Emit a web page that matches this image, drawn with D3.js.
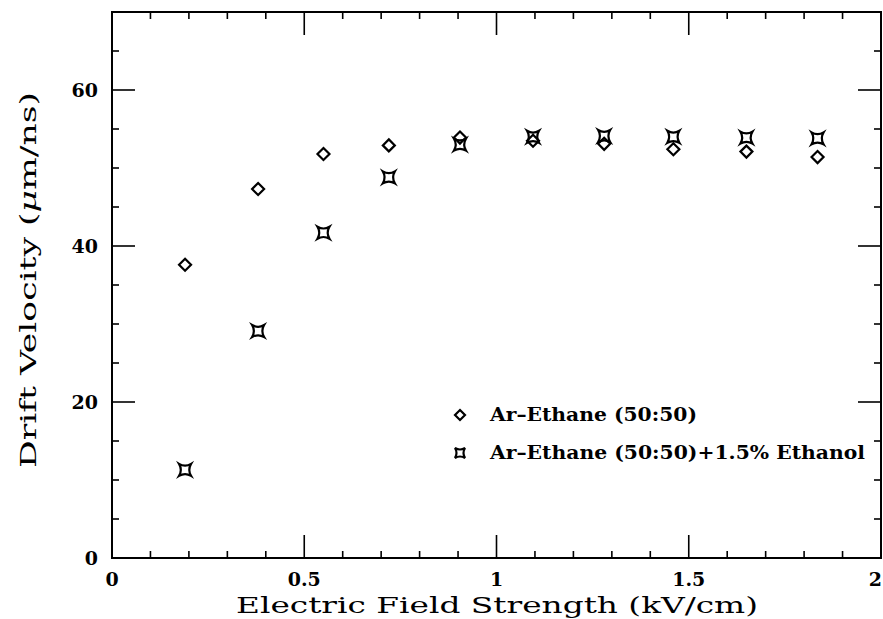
<!DOCTYPE html>
<html><head><meta charset="utf-8">
<script src="https://cdn.jsdelivr.net/npm/d3@7"></script>
<style>body{margin:0;background:#fff}</style>
</head><body>
<svg id="c" width="883" height="619"></svg>
<script>
const fieldX = [0.19, 0.38, 0.55, 0.72, 0.905, 1.095, 1.28, 1.46, 1.65, 1.835];
const arEthane = [37.6, 47.3, 51.8, 52.9, 53.9, 53.5, 53.1, 52.4, 52.1, 51.4];
const arEthaneEthanol = [11.3, 29.1, 41.7, 48.8, 53.0, 54.0, 54.1, 54.0, 53.9, 53.8];
const xTickLabels = ["0", "0.5", "1", "1.5", "2"];
const yTickLabels = ["0", "20", "40", "60"];
const seriesNames = ["Ar\u2013Ethane (50:50)", "Ar\u2013Ethane (50:50)+1.5% Ethanol"];

const svg = d3.select("#c");
const L = 112, R = 881, T = 12, B = 558;
const x = d3.scaleLinear().domain([0, 2]).range([L, R]);
const y = d3.scaleLinear().domain([0, 70]).range([B, T]);
const font = "'DejaVu Serif', serif";

// frame
svg.append("rect").attr("x", L).attr("y", T).attr("width", R - L).attr("height", B - T)
  .attr("fill", "none").attr("stroke", "#000").attr("stroke-width", 2);

const g = svg.append("g").attr("stroke", "#000").attr("stroke-width", 1.6);
const xMinor = d3.range(0, 2.0001, 0.1);
xMinor.forEach(v => {
  const major = Math.abs(v * 2 - Math.round(v * 2)) < 1e-6;
  const len = major ? 23 : 7;
  g.append("line").attr("x1", x(v)).attr("x2", x(v)).attr("y1", B).attr("y2", B - len);
  g.append("line").attr("x1", x(v)).attr("x2", x(v)).attr("y1", T).attr("y2", T + len);
});
const yMinor = d3.range(0, 70.001, 5);
yMinor.forEach(v => {
  const major = v % 20 === 0;
  const len = major ? 23 : 7;
  g.append("line").attr("y1", y(v)).attr("y2", y(v)).attr("x1", L).attr("x2", L + len);
  g.append("line").attr("y1", y(v)).attr("y2", y(v)).attr("x1", R).attr("x2", R - len);
});

// tick labels
xTickLabels.forEach((t, i) => {
  const last = i === xTickLabels.length - 1;
  svg.append("text").attr("x", last ? 882 : x(+t)).attr("y", 586)
    .attr("text-anchor", last ? "end" : "middle")
    .attr("font-family", font).attr("font-weight", "bold").attr("font-size", 19).text(t);
});
yTickLabels.forEach(t => {
  svg.append("text").attr("x", 98).attr("y", y(+t) + 7).attr("text-anchor", "end")
    .attr("font-family", font).attr("font-weight", "bold").attr("font-size", 19).text(t);
});

// axis titles
svg.append("text").attr("x", 236).attr("y", 613)
  .attr("textLength", 522).attr("lengthAdjust", "spacingAndGlyphs")
  .attr("font-family", font).attr("font-size", 23).text("Electric Field Strength (kV/cm)");
const yt = svg.append("text").attr("transform", "translate(36,468) rotate(-90)")
  .attr("textLength", 376).attr("lengthAdjust", "spacingAndGlyphs")
  .attr("font-family", font).attr("font-size", 23);
yt.append("tspan").text("Drift Velocity (");
yt.append("tspan").attr("font-style", "italic").text("\u03bc");
yt.append("tspan").text("m/ns)");

// markers
const diamond = "M0,-6L6,0L0,6L-6,0Z";
const cross = "M-6,-6Q0,-2.5 6,-6Q2.5,0 6,6Q0,2.5 -6,6Q-2.5,0 -6,-6Z";

svg.append("g").selectAll("path").data(fieldX).join("path")
  .attr("d", diamond).attr("transform", (d, i) => `translate(${x(d)},${y(arEthane[i])})`)
  .attr("fill", "none").attr("stroke", "#000").attr("stroke-width", 2.2);
svg.append("g").selectAll("path").data(fieldX).join("path")
  .attr("d", cross).attr("transform", (d, i) => `translate(${x(d)},${y(arEthaneEthanol[i])})`)
  .attr("fill", "none").attr("stroke", "#000").attr("stroke-width", 2.2);

// legend
const lg = svg.append("g");
lg.append("path").attr("d", "M0,-5L5,0L0,5L-5,0Z").attr("transform", "translate(460,415)")
  .attr("fill", "none").attr("stroke", "#000").attr("stroke-width", 2.2);
lg.append("path").attr("d", "M-5,-5Q0,-2 5,-5Q2,0 5,5Q0,2 -5,5Q-2,0 -5,-5Z").attr("transform", "translate(460,453)")
  .attr("fill", "none").attr("stroke", "#000").attr("stroke-width", 2.2);
const legendW = [207, 375];
seriesNames.forEach((s, i) => {
  lg.append("text").attr("x", 490).attr("y", 421 + i * 38).attr("font-family", font)
    .attr("textLength", legendW[i]).attr("lengthAdjust", "spacingAndGlyphs")
    .attr("font-weight", "bold").attr("font-size", 18).text(s);
});
</script>
</body></html>
